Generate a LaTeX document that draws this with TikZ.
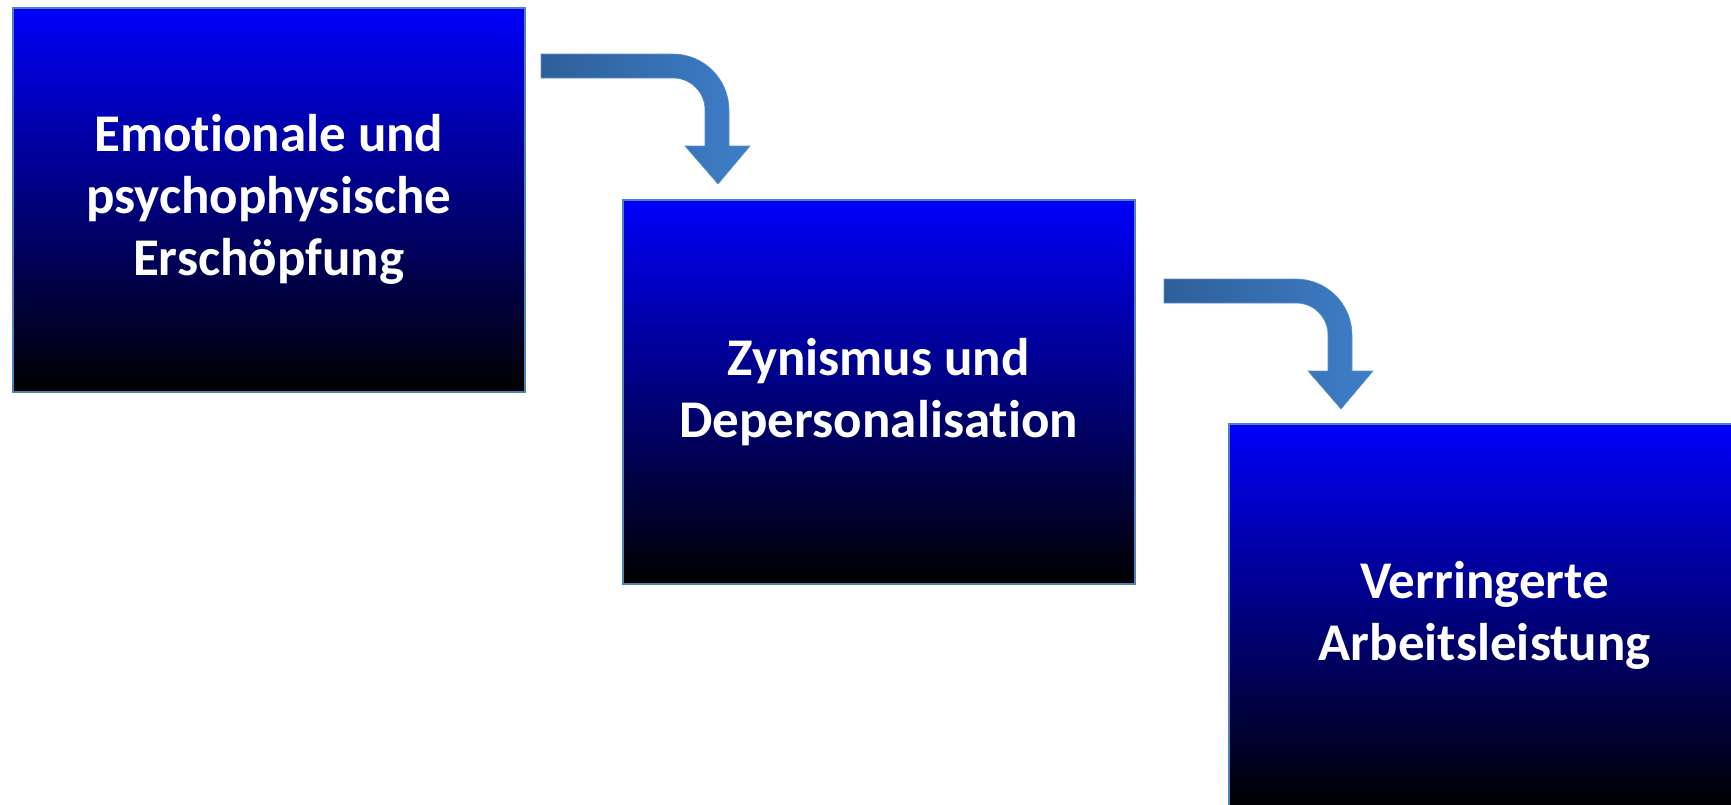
\documentclass[tikz,border=0pt]{standalone}
\usepackage{fontspec}
\setmainfont[Ligatures={NoCommon}]{Carlito}
\definecolor{boxline}{RGB}{79,129,189}
\definecolor{boxtop}{RGB}{0,0,250}
\definecolor{boxmid}{RGB}{0,0,125}
\definecolor{arrL}{RGB}{46,95,153}
\definecolor{arrR}{RGB}{62,126,200}
\tikzset{
  stagebox/.style={draw=boxline, line width=1.5pt, top color=boxtop, bottom color=black, middle color=boxmid,
    minimum width=512pt, minimum height=384pt, anchor=north west, align=center, text=white,
    font=\fontsize{53}{62}\selectfont\bfseries, inner sep=0pt},
  pics/bentarrow/.style={code={
    \shade[left color=arrL, right color=arrR, draw=arrR!85!white, line width=0.6pt]
      (0,0) -- (132,0) arc[start angle=270,end angle=360,radius=56]
      -- (188,92) -- (209,92) -- (177,130) -- (144,92) -- (164,92) -- (164,56)
      arc[start angle=360,end angle=270,radius=32] -- (0,24) -- cycle;
  }}
}
\begin{document}
\begin{tikzpicture}[x=1pt,y=-1pt]
\useasboundingbox (0,0) rectangle (1731,804);
\node[stagebox] (b1) at (12,7) {Emotionale und\\psychophysische\\Erschöpfung};
\node[stagebox] (b2) at (622,199) {Zynismus und\\Depersonalisation};
\node[stagebox] (b3) at (1228,423) {Verringerte\\Arbeitsleistung};
\coordinate (a1) at (541,54);
\coordinate (a2) at (1164,279);
\pic at (a1) {bentarrow};
\pic at (a2) {bentarrow};
\end{tikzpicture}
\end{document}
